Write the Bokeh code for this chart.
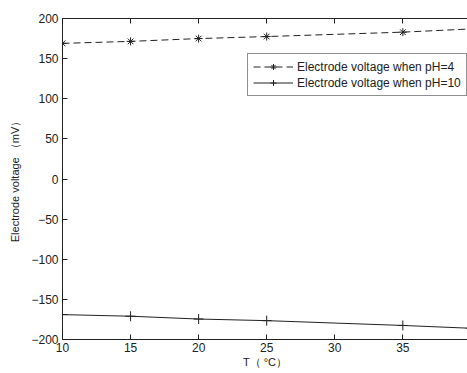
from bokeh.plotting import figure
from bokeh.models import FixedTicker, LinearAxis, Range1d, Legend
from bokeh.embed import file_html
from bokeh.resources import INLINE

# Data
temps = [10, 15, 20, 25, 35, 40]
v_ph4 = [169, 171.5, 175, 177.5, 183, 187]
v_ph10 = [-169, -171, -174.5, -176.5, -182.5, -186]
x_ticks = [10, 15, 20, 25, 30, 35, 40]
y_ticks = [-200, -150, -100, -50, 0, 50, 100, 150, 200]
label_ph4 = "Electrode voltage when pH=4"
label_ph10 = "Electrode voltage when pH=10"

FONT = "Liberation Sans"
INK = "#222222"

p = figure(width=467, height=373, output_backend="svg", toolbar_location=None,
           x_range=Range1d(10, 39.75), y_range=Range1d(-200, 200),
           min_border_left=62, min_border_top=18, min_border_bottom=34,
           min_border_right=0)
p.outline_line_color = None
p.grid.visible = False
p.background_fill_color = "white"
p.border_fill_color = "white"

for ax in (p.xaxis[0], p.yaxis[0]):
    ax.major_tick_in = 5
    ax.major_tick_out = 0
    ax.minor_tick_line_color = None
    ax.axis_line_color = INK
    ax.major_tick_line_color = INK
    ax.major_label_text_font = FONT
    ax.major_label_text_font_size = "12px"
    ax.major_label_text_color = INK
    ax.axis_label_text_font = FONT
    ax.axis_label_text_font_size = "11px"
    ax.axis_label_text_font_style = "normal"
    ax.axis_label_text_color = INK

p.xaxis.ticker = FixedTicker(ticks=x_ticks)
p.yaxis.ticker = FixedTicker(ticks=y_ticks)
p.xaxis.major_label_standoff = 3
p.yaxis.major_label_standoff = 4
p.xaxis.axis_label = "T（ °C）"
p.yaxis.axis_label = "Electrode voltage （mV）"
p.xaxis.axis_label_standoff = 1
p.yaxis.axis_label_standoff = 7

top = LinearAxis(ticker=FixedTicker(ticks=x_ticks), major_tick_in=5, major_tick_out=0,
                 minor_tick_line_color=None, axis_line_color=INK,
                 major_tick_line_color=INK,
                 major_label_overrides={t: "" for t in x_ticks},
                 major_label_standoff=0)
p.add_layout(top, "above")

l1 = p.line(temps, v_ph4, line_color=INK, line_width=1, line_dash="7 4")
s1 = p.scatter(temps, v_ph4, marker="asterisk", size=8, line_color=INK, line_width=1)
l2 = p.line(temps, v_ph10, line_color=INK, line_width=1)
s2 = p.scatter(temps, v_ph10, marker="cross", size=10, line_color=INK, line_width=1)

legend = Legend(items=[(label_ph4, [l1, s1]), (label_ph10, [l2, s2])],
                location=(185, 243), orientation="vertical",
                label_text_font=FONT, label_text_font_size="12px",
                label_text_color=INK, glyph_width=40, glyph_height=15,
                label_height=15, padding=5, spacing=1, margin=0,
                label_standoff=4, border_line_color=INK,
                background_fill_color="white", background_fill_alpha=1)
p.add_layout(legend, "center")

open("out.html", "w").write(file_html(p, INLINE))
